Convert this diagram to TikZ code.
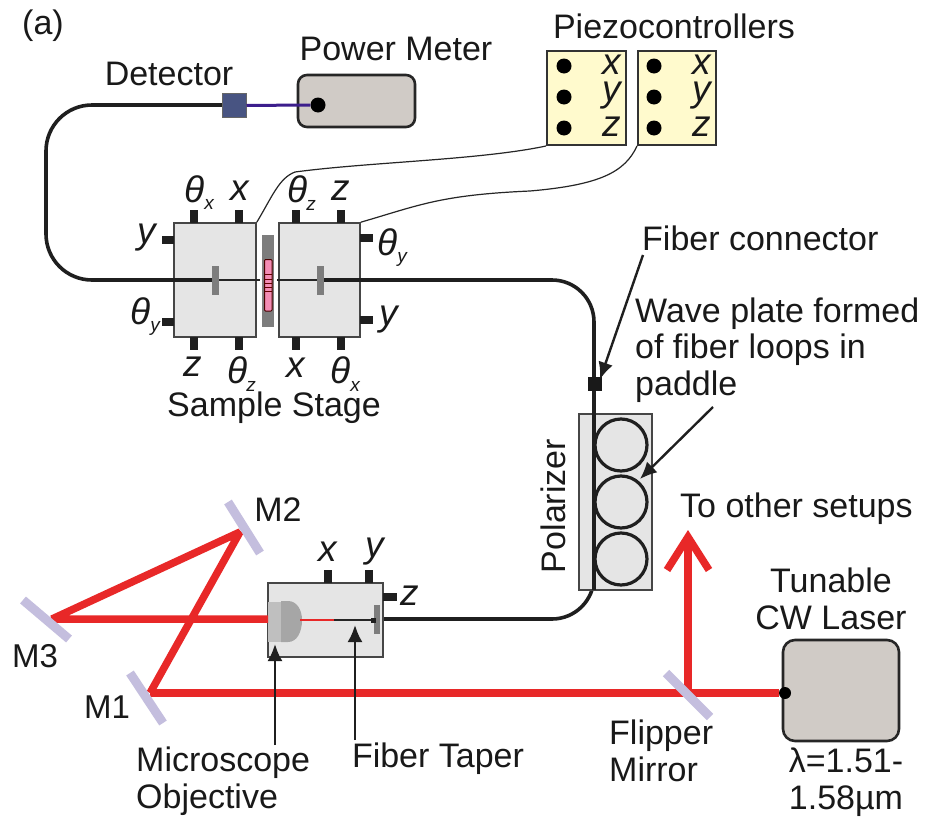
\documentclass[tikz,border=0pt]{standalone}
\usepackage{fontspec}
\setmainfont{Liberation Sans}
\usetikzlibrary{arrows.meta}
\definecolor{panel}{RGB}{229,229,229}
\definecolor{edge}{RGB}{70,70,70}
\definecolor{platec}{RGB}{125,125,125}
\definecolor{redb}{RGB}{232,40,40}
\definecolor{mirrorc}{RGB}{196,190,222}
\definecolor{cream}{RGB}{255,250,205}
\definecolor{devc}{RGB}{208,203,198}
\definecolor{detc}{RGB}{72,84,130}
\definecolor{purp}{RGB}{60,30,140}
\definecolor{pinkc}{RGB}{244,140,180}
\tikzset{
 lbl/.style={font=\fontsize{34}{36.5}\selectfont,inner sep=0pt,text=black!90},
 mlbl/.style={font=\fontsize{33}{36}\selectfont,inner sep=0pt,text=black!90},
 ital/.style={font=\fontsize{37}{38}\selectfont\itshape,inner sep=0pt,text=black!90},
 subl/.style={font=\fontsize{19}{19}\selectfont\itshape,inner sep=0pt,text=black!90},
 panelbox/.style={draw=edge,fill=panel,line width=1.6pt},
 tab/.style={fill=black!88,draw=none},
 fiber/.style={draw=black!88,line width=3.6pt},
 thin fiber/.style={draw=black!85,line width=1.3pt},
 wire/.style={draw=black!85,line width=1.2pt},
 beam/.style={draw=redb,line width=7.5pt},
 mirror/.style={draw=mirrorc,line width=9pt},
 plate/.style={fill=platec,draw=none},
 dev/.style={draw=black!85,fill=devc,line width=2.6pt,rounded corners=9pt},
 piezo/.style={draw=black!80,fill=cream,line width=2pt},
 pdot/.style={circle,fill=black,inner sep=0pt,minimum size=15pt},
 loopc/.style={draw=black!88,fill=panel,line width=3.2pt},
 point/.style={draw=black!88,line width=2.4pt,-{Latex[length=17pt,width=15pt]}}
}
\newcommand{\tabv}[3]{\fill[tab] (#1-4,#2) rectangle (#1+4,#3);}
\newcommand{\tabh}[3]{\fill[tab] (#1,#3-4) rectangle (#2,#3+4);}
\begin{document}
\begin{tikzpicture}[x=1pt,y=-1pt]
\useasboundingbox (0,0) rectangle (927,822);
\fill[white] (0,0) rectangle (927,822);
\node[lbl,anchor=west] (a) at (22,26) {(a)};
% Fiber upper
\coordinate (fdet) at (222,105);
\draw[fiber,rounded corners=46pt] (fdet) -- (46,105) -- (46,280) -- (173,280);
% Stage
\node[panelbox,minimum width=82pt,minimum height=114pt,inner sep=0pt] (stL) at (215,280) {};
\node[panelbox,minimum width=81pt,minimum height=114pt,inner sep=0pt] (stR) at (319.5,280) {};
\draw[fiber] (173,280) -- (stL.center);
\draw[thin fiber] (stL.center) -- (259.5,280);
\draw[thin fiber] (277,280) -- (stR.center);
\draw[fiber,rounded corners=42pt] (stR.center) -- (594,280) -- (594,619) -- (380,619);
\fill[plate] (212,266) rectangle (219,295);
\fill[plate] (317,266) rectangle (323.5,295);
\fill[plate] (262,235) rectangle (274,327);
\draw[fill=pinkc,draw=black!70!red,line width=1pt,rounded corners=1pt] (264.5,259.5) rectangle (272,311);
\foreach \yy in {274,279,283,287,291} \draw[black!60!red,line width=.5pt] (265,\yy) -- (271.5,\yy);
\tabv{194}{210}{223}\tabv{239}{210}{223}\tabv{296}{210}{223}\tabv{341}{210}{223}
\tabv{194}{337}{350}\tabv{239}{337}{350}\tabv{296}{337}{350}\tabv{341}{337}{350}
\tabh{162}{174}{240}\tabh{162}{174}{322}\tabh{360}{373}{238}\tabh{360}{373}{320}
\node[ital] (l1) at (195,189) {θ};
\node[subl] (l1s) at (209,204) {x};
\node[ital] (l2) at (240,191) {x};
\node[ital] (l3) at (298,189) {θ};
\node[subl] (l3s) at (311,205) {z};
\node[ital] (l4) at (341,191) {z};
\node[ital] (l5) at (147,238) {y};
\node[ital] (l6) at (388,242) {θ};
\node[subl] (l6s) at (402,259) {y};
\node[ital] (l7) at (141,311) {θ};
\node[subl] (l7s) at (155,328) {y};
\node[ital] (l8) at (389,320) {y};
\node[ital] (l9) at (193,367) {z};
\node[ital] (l10) at (238,370) {θ};
\node[subl] (l10s) at (251,386) {z};
\node[ital] (l11) at (296,368) {x};
\node[ital] (l12) at (341,370) {θ};
\node[subl] (l12s) at (355,386) {x};
\node[lbl] (stage) at (274,408) {Sample Stage};
% Detector and meter
\node[dev,minimum width=117pt,minimum height=52pt,inner sep=0pt] (pm) at (356.5,101) {};
\node[pdot] (pmdot) at (318,105) {};
\node[draw=black!60,fill=detc,line width=1pt,minimum width=24pt,minimum height=24pt,inner sep=0pt] (det) at (234,105.5) {};
\draw[draw=purp,line width=3pt] (det) -- (pmdot);
\node[lbl] (dett) at (169,74) {Detector};
\node[lbl] (pmt) at (396,49) {Power Meter};
\node[lbl] (pzt) at (674,26) {Piezocontrollers};
% Piezo
\node[piezo,minimum width=79pt,minimum height=94pt,inner sep=0pt] (pz1) at (586.5,98) {};
\node[piezo,minimum width=78pt,minimum height=94pt,inner sep=0pt] (pz2) at (677,98) {};
\foreach \cx/\lx/\nm in {564/612/a,654/702/b}{
 \node[pdot] (d\nm1) at (\cx,66) {};
 \node[pdot] (d\nm2) at (\cx,97) {};
 \node[pdot] (d\nm3) at (\cx,128) {};
 \node[ital] (t\nm1) at (\lx,65) {x};
 \node[ital] (t\nm2) at (\lx,96) {y};
 \node[ital] (t\nm3) at (\lx,127) {z};
}
\draw[wire] (stL.north east) .. controls (272,197) and (279,178) .. (295,172) .. controls (370,162) and (480,160) .. (pz1.south west);
\draw[wire] (stR.north east) .. controls (420,205) and (440,195) .. (530,191) .. controls (600,185) and (625,172) .. (pz2.south west);
% Fiber connector
\node[fill=black!90,minimum size=14pt,inner sep=0pt] (conn) at (595,383.5) {};
\node[lbl,anchor=west] (fc) at (642,238) {Fiber connector};
\coordinate (fc0) at (643,255);
\draw[point] (fc0) -- ([xshift=5pt,yshift=-3pt]conn.north);
\node[lbl,anchor=west,align=left] (wp) at (635,350) {Wave plate formed\\of fiber loops in\\paddle};
% Polarizer
\node[draw=edge,fill=panel,line width=1.2pt,minimum width=73pt,minimum height=176pt,inner sep=0pt] (pol) at (615.5,502) {};
\foreach \cy/\nm in {445/1,502/2,559/3}
 \node[loopc,circle,minimum size=52pt,inner sep=0pt] (loop\nm) at (621,\cy) {};
\draw[fiber] (594,400) -- (594,590);
\node[lbl,rotate=90] (polt) at (553,506) {Polarizer};
\coordinate (wp0) at (713,407);
\draw[point] (wp0) -- (640,479);
% Bottom
\node[panelbox,minimum width=115pt,minimum height=74pt,inner sep=0pt] (bx) at (325.5,620) {};
\fill[black!35] (281,601) -- (288,601) .. controls (297,601) and (302,610) .. (302,620) .. controls (302,632) and (297,642) .. (288,642) -- (281,642) -- cycle;
\fill[black!25] (268,602) rectangle (281,642);
\coordinate (bF1) at (300,620);
\draw[redb,line width=1.8pt] (bF1) -- (334,620);
\draw[thin fiber] (334,620) -- (378,620);
\fill[plate] (374,605) rectangle (380,634);
\fill[black!88] (371,617.5) rectangle (376,622.5);
\tabv{328}{570}{583}\tabv{369}{570}{583}
\tabh{383}{397}{597}
\node[ital] (bx1) at (328,552) {x};
\node[ital] (bx2) at (375,552) {y};
\node[ital] (bx3) at (410,596) {z};
% Beams
\coordinate (M1) at (150,693);
\coordinate (M2) at (240,532);
\coordinate (M3) at (52,619);
\coordinate (FM) at (688,693);
\node[dev,minimum width=116pt,minimum height=101pt,inner sep=0pt,rounded corners=12pt] (laser) at (841,690.5) {};
\node[pdot,minimum size=12pt] (ldot) at (785,693) {};
\draw[beam,line join=bevel] (M1) -- (M2) -- (M3) -- (268,619);
\draw[beam] (M1) -- (ldot);
\draw[beam] (FM) -- (688,540);
\draw[beam,line join=miter] (667,570) -- (688,537) -- (709,570);
\draw[mirror] (23,600) -- (69,639);
\draw[mirror] (228,502) -- (260,553);
\draw[mirror] (130,673) -- (163,723);
\draw[mirror] (666,673) -- (710,717);
\node[lbl] (m2t) at (278,510) {M2};
\node[mlbl] (m3t) at (35,656) {M3};
\node[mlbl] (m1t) at (107,707) {M1};
\node[lbl,anchor=west] (tos) at (680,509) {To other setups};
\node[lbl,align=center] (tl) at (831,599) {Tunable\\CW Laser};
\node[lbl,align=center] (wl) at (846,782) {λ=1.51-\\1.58µm};
\node[lbl,anchor=west,align=left] (fm) at (609,751) {Flipper\\Mirror};
\node[lbl] (ft) at (438,759) {Fiber Taper};
\node[lbl,anchor=west,align=left] (mo) at (136,781) {Microscope\\Objective};
\coordinate (ma) at (275,745);
\coordinate (ta) at (355,740);
\draw[point] (ma) -- (275,644);
\draw[point] (ta) -- (355,625);
\end{tikzpicture}
\end{document}
